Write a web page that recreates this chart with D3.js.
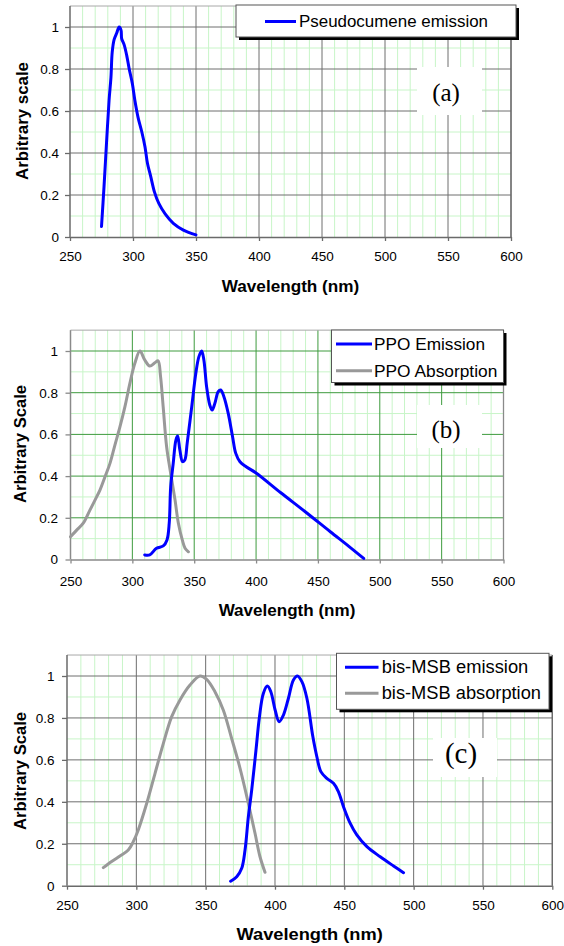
<!DOCTYPE html>
<html>
<head>
<meta charset="utf-8">
<script src="https://cdn.jsdelivr.net/npm/d3@7"></script>
<style>
  html, body { margin: 0; padding: 0; background: #fff; }
  svg { display: block; }
  text { font-family: "Liberation Sans", Arial, Helvetica, sans-serif; }
</style>
</head>
<body>
<svg id="chart" width="564" height="946"></svg>
<script>
// ---------------- data ----------------
const xTickValues = [250, 300, 350, 400, 450, 500, 550, 600];
const yTickValues = [0, 0.2, 0.4, 0.6, 0.8, 1];
const yTickLabels = ["0", "0.2", "0.4", "0.6", "0.8", "1"];
const xTitle = "Wavelength (nm)";
const yTitles = ["Arbitrary scale", "Arbitrary Scale", "Arbitrary Scale"];
const panelTags = ["(a)", "(b)", "(c)"];

// (a) Pseudocumene emission
const pcWavelength = [275, 277, 279, 281, 282.5, 283.5, 285, 287, 289, 290.5, 291, 293, 295, 297, 299.5, 301.5, 304, 307, 309.5, 311.5, 314, 317, 320.5, 325.5, 332, 340, 350];
const pcEmission   = [0.05, 0.24, 0.45, 0.65, 0.76, 0.88, 0.94, 0.97, 1.0, 0.985, 0.945, 0.915, 0.865, 0.80, 0.73, 0.65, 0.57, 0.50, 0.43, 0.35, 0.29, 0.215, 0.16, 0.11, 0.065, 0.033, 0.01];

// (b) PPO
const ppoEmWavelength = [310, 314, 319.5, 325, 328, 329.8, 331, 333, 335.2, 336.6, 338.4, 340.6, 342.4, 344.3, 348, 351.3, 353.8, 356, 357.8, 360, 362.6, 364.5, 366.7, 369.4, 371.4, 374, 377.5, 381, 383.6, 387, 392, 400, 420, 440, 460, 475, 487];
const ppoEmission     = [0.022, 0.022, 0.054, 0.065, 0.094, 0.174, 0.35, 0.46, 0.573, 0.592, 0.525, 0.469, 0.477, 0.557, 0.733, 0.893, 0.973, 1.0, 0.957, 0.829, 0.741, 0.717, 0.749, 0.805, 0.813, 0.781, 0.701, 0.589, 0.509, 0.469, 0.445, 0.415, 0.32, 0.228, 0.133, 0.063, 0.005];
const ppoAbsWavelength = [250, 255, 260.3, 265.7, 269.8, 273.8, 277.9, 281.9, 285.9, 290, 294, 298, 302, 306.1, 310, 314.1, 318.2, 320.8, 322.8, 324.9, 327.7, 331, 334.5, 337.2, 340.4, 342.6, 345.3];
const ppoAbsorption    = [0.109, 0.141, 0.174, 0.237, 0.285, 0.333, 0.397, 0.461, 0.549, 0.637, 0.733, 0.845, 0.941, 1.0, 0.957, 0.928, 0.944, 0.953, 0.877, 0.733, 0.541, 0.413, 0.285, 0.174, 0.093, 0.054, 0.037];

// (c) bis-MSB
const msbEmWavelength = [368, 372.4, 376, 378.4, 380.8, 383.2, 386.3, 388.7, 391.6, 394.5, 397, 400.1, 403, 406.1, 409.7, 413.3, 416.2, 419.4, 423, 427.3, 430.2, 433.1, 437.4, 442.2, 445.8, 449.4, 454.2, 459, 466.3, 475.9, 485.5, 492.7];
const msbEmission     = [0.021, 0.043, 0.083, 0.17, 0.329, 0.456, 0.647, 0.8, 0.917, 0.952, 0.925, 0.838, 0.782, 0.814, 0.894, 0.981, 1.0, 0.973, 0.894, 0.711, 0.615, 0.544, 0.512, 0.488, 0.448, 0.377, 0.298, 0.242, 0.186, 0.138, 0.094, 0.062];
const msbAbsWavelength = [276.2, 282.2, 288.2, 294.2, 297.8, 301.4, 307.5, 313.5, 319.5, 325.5, 331.5, 338.7, 345.9, 350.7, 356.7, 362.7, 368.7, 374.8, 380.8, 385.6, 389.2, 392.8];
const msbAbsorption    = [0.086, 0.115, 0.142, 0.17, 0.21, 0.266, 0.393, 0.536, 0.679, 0.806, 0.886, 0.957, 1.0, 0.984, 0.925, 0.838, 0.703, 0.56, 0.393, 0.25, 0.138, 0.064];

const seriesNames = [
  ["Pseudocumene emission"],
  ["PPO Emission", "PPO Absorption"],
  ["bis-MSB emission", "bis-MSB absorption"]
];

// ---------------- layout ----------------
const BLUE = "#0000ff", GRAY = "#999999", MINOR = "#c8f5c8";
const panels = [
  { left: 70, right: 511, bottom: 237, unit: 210, major: "#6e6e6e", axis: "#6a6a6a",
    series: [{ wl: pcWavelength, v: pcEmission, color: BLUE }],
    legend: { x0: 236, x1: 516, y0: 5, y1: 37, lx0: 265, lx1: 296, tx: 299, rows: [21.5], widths: [189], fs: 17 },
    tag: { x0: 417, x1: 482, y0: 67, y1: 115, cx: 446, base: 100.5, fs: 25 },
    xLabY: 256.7, xTitleY: 292, xTitleW: 137.5, yTitleX: 27.5, yTitleC: 121, yPad: 6 },
  { left: 70.5, right: 503.5, bottom: 559.5, unit: 208.5, major: "#3e9b3e", axis: "#8a8a8a",
    series: [{ wl: ppoAbsWavelength, v: ppoAbsorption, color: GRAY }, { wl: ppoEmWavelength, v: ppoEmission, color: BLUE }],
    legendOrder: [1, 0],
    legend: { x0: 331.5, x1: 503.5, y0: 330, y1: 382.5, lx0: 336, lx1: 372, tx: 374, rows: [344, 370.7], widths: [111, 123.3], fs: 17 },
    tag: { x0: 417, x1: 482, y0: 405, y1: 448, cx: 446, base: 437.5, fs: 25 },
    xLabY: 581, xTitleY: 615.5, xTitleW: 136.7, yTitleX: 25.5, yTitleC: 444, yPad: 7.5 },
  { left: 67, right: 552.3, bottom: 885.7, unit: 209.7, major: "#6e6e6e", axis: "#6a6a6a",
    series: [{ wl: msbAbsWavelength, v: msbAbsorption, color: GRAY }, { wl: msbEmWavelength, v: msbEmission, color: BLUE }],
    legendOrder: [1, 0],
    legend: { x0: 336.5, x1: 549, y0: 653.3, y1: 709.3, lx0: 345, lx1: 378.5, tx: 381.7, rows: [667.3, 693.3], widths: [146.6, 159.3], fs: 17.5 },
    tag: { x0: 433, x1: 497, y0: 738, y1: 777, cx: 461, base: 763, fs: 29 },
    xLabY: 905, xTitleY: 940, xTitleW: 146.4, yTitleX: 25.5, yTitleC: 771, yPad: 7.5 }
];

const svg = d3.select("#chart");

panels.forEach((p, i) => {
  const top = p.bottom - 1.1 * p.unit;
  const x = d3.scaleLinear().domain([250, 600]).range([p.left, p.right]);
  const y = d3.scaleLinear().domain([0, 1.1]).range([p.bottom, top]);
  const g = svg.append("g");

  // plot background
  g.append("rect").attr("x", p.left).attr("y", top)
    .attr("width", p.right - p.left).attr("height", p.bottom - top).attr("fill", "#fff");

  // minor grid
  const minorX = d3.range(260, 600, 10).filter(v => v % 50 !== 0);
  const minorY = [0.1, 0.3, 0.5, 0.7, 0.9];
  g.selectAll(".mx").data(minorX).join("line")
    .attr("x1", d => x(d)).attr("x2", d => x(d)).attr("y1", top).attr("y2", p.bottom)
    .attr("stroke", MINOR).attr("stroke-width", 1);
  g.selectAll(".my").data(minorY).join("line")
    .attr("x1", p.left).attr("x2", p.right).attr("y1", d => y(d)).attr("y2", d => y(d))
    .attr("stroke", MINOR).attr("stroke-width", 1);
  // major grid
  g.selectAll(".Mx").data(xTickValues.slice(1)).join("line")
    .attr("x1", d => x(d)).attr("x2", d => x(d)).attr("y1", top).attr("y2", p.bottom)
    .attr("stroke", p.major).attr("stroke-width", 1);
  g.selectAll(".My").data(yTickValues.slice(1)).join("line")
    .attr("x1", p.left).attr("x2", p.right).attr("y1", d => y(d)).attr("y2", d => y(d))
    .attr("stroke", p.major).attr("stroke-width", 1);
  // top border & right border
  g.append("line").attr("x1", p.left).attr("x2", p.right).attr("y1", top).attr("y2", top)
    .attr("stroke", "#a8a8a8").attr("stroke-width", 1);
  g.append("line").attr("x1", p.right).attr("x2", p.right).attr("y1", top).attr("y2", p.bottom)
    .attr("stroke", p.axis).attr("stroke-width", 1.3);

  // tag box (white, over grid)
  g.append("rect").attr("x", p.tag.x0).attr("y", p.tag.y0)
    .attr("width", p.tag.x1 - p.tag.x0).attr("height", p.tag.y1 - p.tag.y0).attr("fill", "#fff");
  g.append("text").attr("x", p.tag.cx).attr("y", p.tag.base)
    .attr("text-anchor", "middle").style("font-family", "'Liberation Serif', 'Times New Roman', serif")
    .style("font-size", p.tag.fs + "px").attr("fill", "#000").text(panelTags[i]);

  // axes
  const xAxis = d3.axisBottom(x).tickValues(xTickValues).tickFormat(d3.format("d"))
    .tickSize(4).tickSizeOuter(0).tickPadding(p.xLabY - p.bottom - 4 - 4.8);
  const xg = g.append("g").attr("transform", `translate(0,${p.bottom})`).call(xAxis);
  const yAxis = d3.axisLeft(y).tickValues(yTickValues).tickFormat((d, k) => yTickLabels[k])
    .tickSize(5).tickSizeOuter(0).tickPadding(p.yPad);
  const yg = g.append("g").attr("transform", `translate(${p.left},0)`).call(yAxis);
  yg.select(".domain").attr("d", `M0,${top}V${p.bottom}`);
  [xg, yg].forEach(ax => {
    ax.select(".domain").attr("stroke", p.axis).attr("stroke-width", 1.5);
    ax.selectAll(".tick line").attr("stroke", p.axis).attr("stroke-width", 1.3);
    ax.selectAll(".tick text").attr("fill", "#000")
      .style("font-family", "'Liberation Sans', Arial, sans-serif").style("font-size", "13.5px");
  });

  // series
  const line = d3.line().curve(d3.curveCatmullRom.alpha(0.5));
  p.series.forEach(s => {
    const pts = s.wl.map((w, k) => [x(w), y(s.v[k])]);
    g.append("path").attr("d", line(pts)).attr("fill", "none")
      .attr("stroke", s.color).attr("stroke-width", 3).attr("stroke-linejoin", "round").attr("stroke-linecap", "round");
  });

  // legend
  const L = p.legend;
  g.append("rect").attr("x", L.x0 + 3).attr("y", L.y0 + 3)
    .attr("width", L.x1 - L.x0).attr("height", L.y1 - L.y0).attr("fill", "#000");
  g.append("rect").attr("x", L.x0).attr("y", L.y0)
    .attr("width", L.x1 - L.x0).attr("height", L.y1 - L.y0)
    .attr("fill", "#fff").attr("stroke", "#555").attr("stroke-width", 1);
  const order = p.legendOrder || [0];
  order.forEach((si, r) => {
    const s = p.series[si];
    const cy = L.rows[r];
    g.append("line").attr("x1", L.lx0).attr("x2", L.lx1).attr("y1", cy).attr("y2", cy)
      .attr("stroke", s.color).attr("stroke-width", 3);
    g.append("text").attr("x", L.tx).attr("y", cy + L.fs * 0.35)
      .attr("textLength", L.widths[r]).attr("lengthAdjust", "spacingAndGlyphs")
      .style("font-size", L.fs + "px").attr("fill", "#000").text(seriesNames[i][r]);
  });

  // axis titles
  g.append("text").attr("x", (p.left + p.right) / 2).attr("y", p.xTitleY)
    .attr("text-anchor", "middle").style("font-weight", "bold").style("font-size", "17px")
    .attr("textLength", p.xTitleW).attr("lengthAdjust", "spacingAndGlyphs")
    .attr("fill", "#000").text(xTitle);
  g.append("text").attr("transform", `translate(${p.yTitleX},${p.yTitleC}) rotate(-90)`)
    .attr("text-anchor", "middle").style("font-weight", "bold").style("font-size", "17px")
    .attr("textLength", 118).attr("lengthAdjust", "spacingAndGlyphs")
    .attr("fill", "#000").text(yTitles[i]);
});
</script>
</body>
</html>
